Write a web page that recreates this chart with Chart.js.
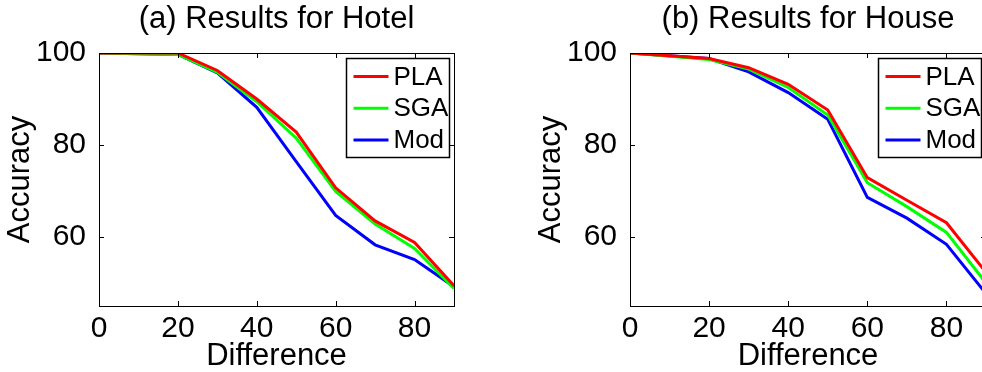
<!DOCTYPE html>
<html>
<head>
<meta charset="utf-8">
<script src="https://cdn.jsdelivr.net/npm/chart.js@4.4.0/dist/chart.umd.min.js"></script>
<style>
html, body { margin: 0; padding: 0; background: #fff; overflow: hidden; }
#wrap { position: relative; width: 982px; height: 372px; overflow: hidden; }
#hotel { position: absolute; left: 0; top: 0; }
#house { position: absolute; left: 491px; top: 0; }
</style>
</head>
<body>
<div id="wrap">
  <canvas id="hotel" width="491" height="372"></canvas>
  <canvas id="house" width="540" height="372"></canvas>
</div>
<script>
// valores
const difference = [0, 20, 30, 40, 50, 60, 70, 80, 90];
const hotelPLA = [100, 100, 96.2, 90.0, 82.8, 70.7, 63.5, 58.8, 49.4];
const hotelSGA = [100, 99.7, 95.8, 89.4, 81.5, 69.9, 62.8, 57.5, 48.8];
const hotelMod = [100, 99.7, 95.7, 88.2, 76.4, 64.7, 58.3, 55.1, 49.2];
const housePLA = [100, 98.8, 96.8, 93.2, 87.6, 72.9, 68.0, 63.1, 52.3];
const houseSGA = [100, 98.6, 96.5, 92.5, 86.5, 71.8, 66.6, 61.0, 50.0];
const houseMod = [100, 98.8, 95.9, 91.4, 85.6, 68.6, 64.1, 58.4, 47.7];
const seriesNames = ['PLA', 'SGA', 'Mod'];
const seriesColors = ['#ff0000', '#00ff00', '#0000ff'];
const xTicks = [0, 20, 40, 60, 80];
const yTicks = [60, 80, 100];

const FONT = '"Liberation Sans", Arial, sans-serif';
Chart.defaults.color = '#000';
Chart.defaults.font.family = FONT;

// caixa estilo MATLAB + legenda dentro do gráfico
const caixaPlugin = {
    id: 'caixa',
    afterDatasetsDraw(chart) {
        const ctx = chart.ctx;
        const a = chart.chartArea;
        const sx = chart.scales.x, sy = chart.scales.y;
        ctx.save();
        ctx.strokeStyle = '#000';
        ctx.lineWidth = 1;
        ctx.beginPath();
        xTicks.forEach(v => {
            const px = Math.round(sx.getPixelForValue(v)) + 0.5;
            ctx.moveTo(px, a.bottom); ctx.lineTo(px, a.bottom - 5);
            ctx.moveTo(px, a.top); ctx.lineTo(px, a.top + 5);
        });
        yTicks.forEach(v => {
            const py = Math.round(sy.getPixelForValue(v)) + 0.5;
            ctx.moveTo(a.left, py); ctx.lineTo(a.left + 5, py);
            ctx.moveTo(a.right, py); ctx.lineTo(a.right - 5, py);
        });
        ctx.stroke();
        ctx.strokeRect(Math.round(a.left) + 0.5, Math.round(a.top) + 0.5,
            Math.round(a.right - a.left), Math.round(a.bottom - a.top));

        // legenda
        const w = 103, h = 99;
        const bx = Math.round(a.right - 5 - w) + 0.5, by = Math.round(a.top + 5) + 0.5;
        ctx.fillStyle = '#fff';
        ctx.fillRect(bx, by, w, h);
        ctx.lineWidth = 1.5;
        ctx.strokeRect(bx, by, w, h);
        ctx.font = '26px ' + FONT;
        ctx.textBaseline = 'middle';
        ctx.textAlign = 'left';
        chart.data.datasets.forEach((ds, i) => {
            const y = by + 18 + i * 31.7;
            ctx.strokeStyle = ds.borderColor;
            ctx.lineWidth = 3;
            ctx.beginPath();
            ctx.moveTo(bx + 7, y); ctx.lineTo(bx + 42, y);
            ctx.stroke();
            ctx.fillStyle = '#000';
            ctx.fillText(ds.label, bx + 47, y + 1);
        });
        ctx.restore();
    }
};

function criarGrafico(id, titulo, series, padLeft, padRight) {
    const datasets = series.map((vals, i) => ({
        label: seriesNames[i],
        data: difference.map((d, j) => ({ x: d, y: vals[j] })),
        borderColor: seriesColors[i],
        backgroundColor: seriesColors[i],
        borderWidth: 3,
        pointRadius: 0,
        tension: 0,
        fill: false
    }));
    return new Chart(document.getElementById(id), {
        type: 'line',
        data: { datasets: datasets },
        options: {
            responsive: false,
            animation: false,
            devicePixelRatio: 1,
            layout: { padding: { left: padLeft, right: padRight, top: 0, bottom: 0 } },
            plugins: {
                legend: { display: false },
                tooltip: { enabled: false },
                title: {
                    display: true,
                    text: titulo,
                    fullSize: false,
                    color: '#000',
                    font: { size: 31, weight: 'normal', family: FONT },
                    padding: { top: 1, bottom: 14.8 }
                }
            },
            scales: {
                x: {
                    type: 'linear',
                    min: 0, max: 90,
                    grid: { display: false },
                    border: { display: false },
                    afterBuildTicks: s => { s.ticks = xTicks.map(v => ({ value: v })); },
                    afterFit: s => { s.height = 66; },
                    ticks: { font: { size: 30 }, padding: -3, maxRotation: 0, autoSkip: false },
                    title: { display: true, text: 'Difference', font: { size: 31 }, padding: { top: 0, bottom: -3 } }
                },
                y: {
                    min: 45, max: 100,
                    grid: { display: false },
                    border: { display: false },
                    afterBuildTicks: s => { s.ticks = yTicks.map(v => ({ value: v })); },
                    afterFit: s => { s.width = 99; },
                    ticks: { font: { size: 30 }, padding: 5, autoSkip: false },
                    title: { display: true, text: 'Accuracy', font: { size: 31 }, padding: { top: 2, bottom: 0 } }
                }
            }
        },
        plugins: [caixaPlugin]
    });
}

criarGrafico('hotel', '(a) Results for Hotel', [hotelPLA, hotelSGA, hotelMod], 0, 37);
criarGrafico('house', '(b) Results for House', [housePLA, houseSGA, houseMod], 40, 45);
</script>
</body>
</html>
